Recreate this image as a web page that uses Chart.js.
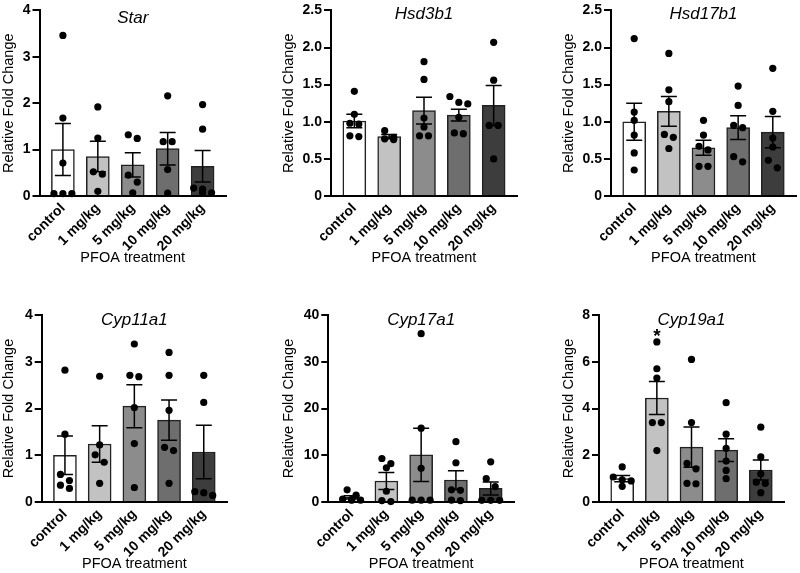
<!DOCTYPE html>
<html>
<head>
<meta charset="utf-8">
<script src="https://cdn.jsdelivr.net/npm/chart.js@4.4.1/dist/chart.umd.min.js"></script>
<style>
  html, body { margin: 0; padding: 0; background: #fff; overflow: hidden; }
  #wrap { position: relative; width: 800px; height: 573px; }
  canvas { position: absolute; }
</style>
</head>
<body>
<div id="wrap"></div>
<script>
const groups = ["control", "1 mg/kg", "5 mg/kg", "10 mg/kg", "20 mg/kg"];
const genes = ["Star", "Hsd3b1", "Hsd17b1", "Cyp11a1", "Cyp17a1", "Cyp19a1"];
const yMax = [4, 2.5, 2.5, 4, 40, 8];
const yStep = [1, 0.5, 0.5, 1, 10, 2];

const starMean = [1.0, 0.85, 0.67, 1.02, 0.64];
const starSem = [0.56, 0.33, 0.26, 0.35, 0.34];
const starPoints = [
  [3.46, 1.68, 0.71, 0.05, 0.05, 0.05],
  [1.92, 1.25, 0.52, 0.47, 0.10],
  [1.32, 1.24, 0.45, 0.30, 0.07],
  [2.16, 1.17, 1.17, 0.57, 0.06],
  [1.97, 1.44, 0.17, 0.15, 0.07, 0.07]
];

const hsd3b1Mean = [1.01, 0.80, 1.15, 1.09, 1.22];
const hsd3b1Sem = [0.09, 0.03, 0.18, 0.08, 0.27];
const hsd3b1Points = [
  [1.41, 1.10, 0.98, 0.97, 0.81, 0.80],
  [0.88, 0.79, 0.77, 0.76],
  [1.81, 1.57, 1.05, 0.93, 0.81, 0.81],
  [1.34, 1.26, 1.24, 1.06, 0.85, 0.84],
  [2.07, 1.56, 0.95, 0.95, 0.50]
];

const hsd17b1Mean = [1.0, 1.14, 0.65, 0.92, 0.86];
const hsd17b1Sem = [0.25, 0.20, 0.10, 0.16, 0.21];
const hsd17b1Points = [
  [2.12, 1.13, 1.02, 0.82, 0.58, 0.35],
  [1.92, 1.43, 1.27, 0.83, 0.79, 0.64],
  [1.02, 0.82, 0.67, 0.62, 0.40, 0.40],
  [1.48, 1.22, 0.95, 0.92, 0.53, 0.46],
  [1.72, 1.14, 0.78, 0.66, 0.48, 0.38]
];

const cyp11a1Mean = [1.0, 1.24, 2.05, 1.75, 1.07];
const cyp11a1Sem = [0.41, 0.39, 0.46, 0.43, 0.57];
const cyp11a1Points = [
  [2.82, 1.45, 0.59, 0.46, 0.36, 0.29],
  [2.69, 1.22, 1.01, 0.85, 0.40],
  [3.38, 2.71, 2.68, 2.02, 1.25, 0.31],
  [3.20, 2.71, 1.96, 1.17, 1.10, 0.40],
  [2.71, 2.13, 0.22, 0.20, 0.14]
];

const cyp17a1Mean = [1.0, 4.5, 10.1, 4.7, 2.9];
const cyp17a1Sem = [0.35, 1.8, 5.7, 2.0, 1.4];
const cyp17a1Points = [
  [2.6, 1.5, 0.6, 0.5, 0.4, 0.4],
  [9.3, 8.2, 7.3, 2.3, 0.3, 0.1],
  [36, 15.8, 7.2, 0.4, 0.4, 0.4],
  [12.9, 8.4, 2.6, 2.5, 0.4, 0.3],
  [8.6, 5.0, 3.3, 0.35, 0.35, 0.35]
];

const cyp19a1Mean = [1.0, 4.45, 2.35, 2.22, 1.37];
const cyp19a1Sem = [0.13, 0.71, 0.86, 0.49, 0.43];
const cyp19a1Points = [
  [1.5, 1.07, 0.95, 0.9, 0.67],
  [6.85, 5.7, 5.3, 3.4, 3.4, 2.2],
  [6.1, 3.4, 1.65, 1.42, 0.8, 0.78],
  [4.25, 2.9, 2.3, 1.75, 1.35, 1.0],
  [3.2, 1.93, 1.2, 0.85, 0.8, 0.4]
];

// significance marks (gene, group index, height of the star)
const sigMarks = [{ gene: "Cyp19a1", group: 1, y: 7.3 }];

const means = [starMean, hsd3b1Mean, hsd17b1Mean, cyp11a1Mean, cyp17a1Mean, cyp19a1Mean];
const sems = [starSem, hsd3b1Sem, hsd17b1Sem, cyp11a1Sem, cyp17a1Sem, cyp19a1Sem];
const points = [starPoints, hsd3b1Points, hsd17b1Points, cyp11a1Points, cyp17a1Points, cyp19a1Points];

const barColors = ["#ffffff", "#c2c2c2", "#8c8c8c", "#6e6e6e", "#3d3d3d"];
const FONT = "'Liberation Sans', Arial, Helvetica, sans-serif";
Chart.defaults.font.family = FONT;
Chart.defaults.color = "#000";

// where each panel sits on the page
const boxes = [
  { left: 0, top: 0, axisX: 39.5, endX: 227, areaTop: 9.3, zeroY: 196, titleDy: 7 },
  { left: 280, top: 0, axisX: 331, endX: 518, areaTop: 9.3, zeroY: 196, titleDy: 2.5 },
  { left: 560, top: 0, axisX: 611, endX: 797, areaTop: 9.3, zeroY: 196, titleDy: 2.5 },
  { left: 0, top: 280, axisX: 41.7, endX: 227.7, areaTop: 315, zeroY: 502, titleDy: 4 },
  { left: 280, top: 280, axisX: 328.3, endX: 515, areaTop: 315, zeroY: 502, titleDy: 4 },
  { left: 560, top: 280, axisX: 599, endX: 785, areaTop: 315, zeroY: 502, titleDy: 4 }
];

const X_MIN = -0.67, X_MAX = 4.67;
const X_AXIS_H = 71;
const DOT_GAP = 9;
const CAP = 16;

// points at about the same height are laid side by side, like a GraphPad scatter
function spread(values, max, plotH, catPx) {
  const sorted = values.slice().sort((a, b) => b - a);
  const out = [];
  let row = [];
  const flush = () => {
    row.forEach((v, k) => out.push({ dx: (k - (row.length - 1) / 2) * DOT_GAP / catPx, y: v }));
    row = [];
  };
  sorted.forEach(v => {
    if (row.length && ((row[0] - v) / max * plotH > DOT_GAP * 0.9 || row.length === 3)) flush();
    row.push(v);
  });
  flush();
  return out;
}

const errorBars = {
  id: "errorBars",
  afterDatasetDraw(chart, args) {
    if (args.index !== 0) return;
    const { ctx, scales: { x, y } } = chart;
    const ds = chart.data.datasets[0];
    ctx.save();
    ctx.strokeStyle = "#000";
    ctx.lineWidth = 1.5;
    ds.data.forEach((d, i) => {
      const px = x.getPixelForValue(d.x);
      const top = y.getPixelForValue(d.y + ds.sem[i]);
      const bot = y.getPixelForValue(d.y - ds.sem[i]);
      ctx.beginPath();
      ctx.moveTo(px, top); ctx.lineTo(px, bot);
      ctx.moveTo(px - CAP / 2, top); ctx.lineTo(px + CAP / 2, top);
      ctx.moveTo(px - CAP / 2, bot); ctx.lineTo(px + CAP / 2, bot);
      ctx.stroke();
    });
    ctx.restore();
  }
};

function titlePlugin(gene, dy) {
  return {
    id: "panelTitle",
    afterDraw(chart) {
      const { ctx, chartArea, scales: { x, y } } = chart;
      ctx.save();
      ctx.fillStyle = "#000";
      ctx.textAlign = "center";
      ctx.textBaseline = "alphabetic";
      ctx.font = "italic 17px " + FONT;
      ctx.fillText(gene, (chartArea.left + chartArea.right) / 2, chartArea.top + dy + 6);
      sigMarks.filter(m => m.gene === gene).forEach(m => {
        ctx.font = "bold 19px " + FONT;
        ctx.fillText("*", x.getPixelForValue(m.group), y.getPixelForValue(m.y) + 11);
      });
      ctx.restore();
    }
  };
}

const wrap = document.getElementById("wrap");

genes.forEach((gene, gi) => {
  const b = boxes[gi];
  const cv = document.createElement("canvas");
  const W = Math.round(b.endX + 3 - b.left);
  const H = Math.round(b.zeroY - b.top + X_AXIS_H);
  cv.width = W;
  cv.height = H;
  cv.style.left = b.left + "px";
  cv.style.top = b.top + "px";
  wrap.appendChild(cv);

  const plotH = b.zeroY - b.areaTop;
  const catPx = (b.endX - b.axisX) / (X_MAX - X_MIN);

  const barData = means[gi].map((m, i) => ({ x: i, y: m }));
  const dotData = [];
  points[gi].forEach((vals, i) => {
    spread(vals, yMax[gi], plotH, catPx).forEach(p => dotData.push({ x: i + p.dx, y: p.y }));
  });

  new Chart(cv, {
    type: "bar",
    data: {
      datasets: [
        {
          type: "bar",
          data: barData,
          sem: sems[gi],
          backgroundColor: barColors,
          borderColor: "#222",
          borderWidth: 1.5,
          barThickness: 23,
          order: 2
        },
        {
          type: "scatter",
          data: dotData,
          backgroundColor: "#000",
          borderWidth: 0,
          pointRadius: 3.6,
          showLine: false,
          clip: false,
          order: 1
        }
      ]
    },
    options: {
      responsive: false,
      animation: false,
      events: [],
      layout: { padding: { top: b.areaTop - b.top, right: 3, left: 0, bottom: 0 } },
      plugins: {
        legend: { display: false },
        tooltip: { enabled: false }
      },
      scales: {
        x: {
          type: "linear",
          min: X_MIN,
          max: X_MAX,
          offset: false,
          z: 1,
          afterBuildTicks: s => { s.ticks = groups.map((g, i) => ({ value: i })); },
          afterFit: s => { s.height = X_AXIS_H; },
          grid: { display: false, drawTicks: false, offset: false },
          border: { display: true, color: "#000", width: 2 },
          ticks: {
            autoSkip: false,
            minRotation: 45,
            maxRotation: 45,
            padding: 4,
            font: { size: 14, weight: "bold" },
            callback: v => groups[v]
          },
          title: { display: true, text: "PFOA treatment", font: { size: 14.5 }, padding: { top: 0, bottom: 0 } }
        },
        y: {
          min: 0,
          max: yMax[gi],
          z: 1,
          afterFit: s => { s.width = b.axisX - b.left; },
          ticks: { stepSize: yStep[gi], padding: 2, font: { size: 14, weight: "bold" } },
          grid: { display: true, drawOnChartArea: false, drawTicks: true, tickLength: 7, color: "#000", lineWidth: 2 },
          border: { display: true, color: "#000", width: 2 },
          title: { display: true, text: "Relative Fold Change", font: { size: 14.5 }, padding: 0 }
        }
      }
    },
    plugins: [errorBars, titlePlugin(gene, b.titleDy)]
  });
});
</script>
</body>
</html>
